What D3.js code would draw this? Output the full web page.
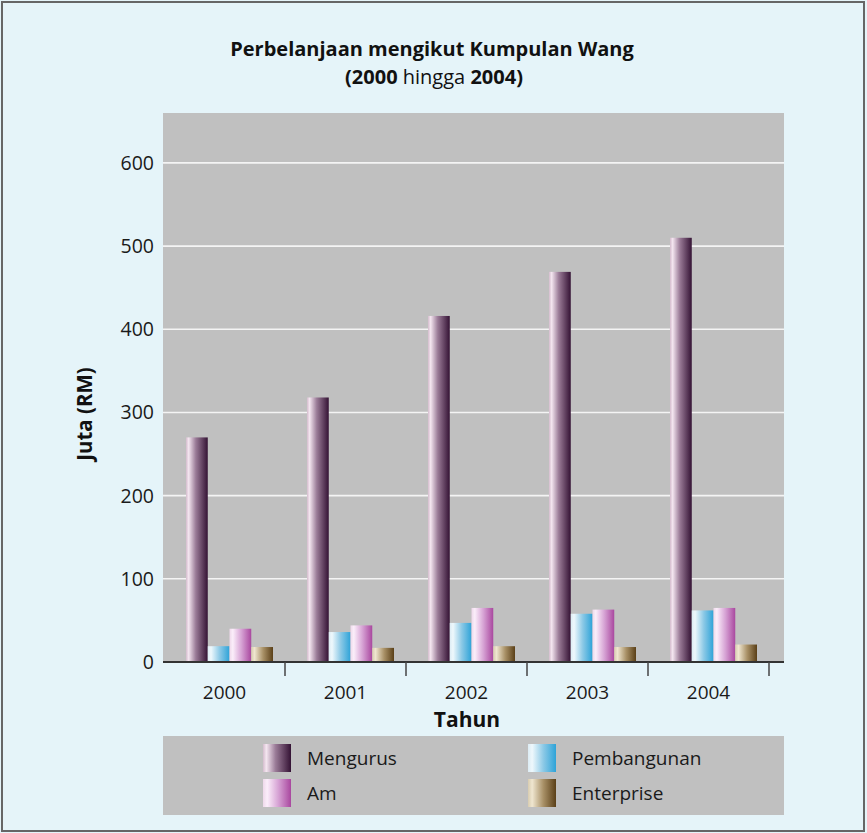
<!DOCTYPE html>
<html>
<head>
<meta charset="utf-8">
<script src="https://cdn.jsdelivr.net/npm/d3@7"></script>
<style>
html,body{margin:0;padding:0;background:#e5f4f9;}
svg{display:block;font-family:"Open Sans",sans-serif;}
</style>
</head>
<body>
<svg id="chart" width="867" height="833"></svg>
<script>
const years = ["2000","2001","2002","2003","2004"];
const seriesNames = ["Mengurus","Pembangunan","Am","Enterprise"];
const mengurus    = [270, 318, 416, 469, 510];
const pembangunan = [19, 36, 47, 58, 62];
const am          = [40, 44, 65, 63, 65];
const enterprise  = [18, 17, 19, 18, 21];
const yTicks = [0, 100, 200, 300, 400, 500, 600];
const legendOrder = ["Mengurus","Pembangunan","Am","Enterprise"];

const seriesValues = {Mengurus: mengurus, Pembangunan: pembangunan, Am: am, Enterprise: enterprise};
const gradStops = {
  Mengurus:    [["0%","#d4bccd"],["12%","#f4e6f0"],["45%","#9a7b97"],["100%","#341234"]],
  Pembangunan: [["0%","#dcecf4"],["15%","#eef8fc"],["55%","#8cc9e6"],["100%","#2ea3d8"]],
  Am:          [["0%","#eed8ea"],["15%","#fbeefa"],["55%","#d6a2d4"],["100%","#a9479f"]],
  Enterprise:  [["0%","#d8ccb0"],["15%","#efe6d0"],["55%","#a89066"],["100%","#5a3f17"]]
};

const svg = d3.select("#chart");
const W = 867, H = 833;

// background & border
svg.append("rect").attr("x",0).attr("y",0).attr("width",W).attr("height",H).attr("fill","#e5f4f9");
svg.append("rect").attr("x",2).attr("y",2).attr("width",862).attr("height",829)
  .attr("fill","none").attr("stroke","#666").attr("stroke-width",2);

const defs = svg.append("defs");
seriesNames.forEach(n => {
  const g = defs.append("linearGradient").attr("id","g-"+n).attr("x1","0").attr("x2","1").attr("y1","0").attr("y2","0");
  gradStops[n].forEach(s => g.append("stop").attr("offset",s[0]).attr("stop-color",s[1]));
});

const plotL = 163, plotR = 784, plotT = 113, plotB = 662;
const y = d3.scaleLinear().domain([0, 660]).range([plotB, plotT]);
const x0 = d3.scaleBand().domain(years).range([164, 769]).paddingInner(0).paddingOuter(0);
const x1 = d3.scaleBand().domain(seriesNames).range([22, 109]).padding(0);

// plot background
svg.append("rect").attr("x",plotL).attr("y",plotT).attr("width",plotR-plotL).attr("height",plotB-plotT).attr("fill","#c0c0c0");

// grid
svg.append("g").selectAll("line").data(yTicks.filter(d=>d>0)).join("line")
  .attr("x1",plotL).attr("x2",plotR).attr("y1",d=>y(d)).attr("y2",d=>y(d))
  .attr("stroke","#f4f4f4").attr("stroke-width",1.6);

// y tick labels
svg.append("g").selectAll("text").data(yTicks).join("text")
  .attr("x",154).attr("y",d=>y(d)).attr("dy","0.36em").attr("text-anchor","end")
  .attr("font-size",19.5).attr("fill","#1a1a1a").text(d=>d);

// bars
const groups = svg.append("g").selectAll("g").data(years).join("g")
  .attr("transform",d=>`translate(${x0(d)},0)`);
groups.selectAll("rect").data((yr,i)=>seriesNames.map(n=>({n, v: seriesValues[n][i]}))).join("rect")
  .attr("x",d=>x1(d.n)).attr("width",x1.bandwidth())
  .attr("y",d=>y(d.v)).attr("height",d=>plotB-y(d.v))
  .attr("fill",d=>`url(#g-${d.n})`);

// x axis
const xAxis = d3.axisBottom(x0).tickSize(0).tickFormat(d=>d);
const ax = svg.append("g").attr("transform",`translate(0,${plotB})`).call(xAxis);
ax.select(".domain").remove();
ax.selectAll("text").attr("font-size",19).attr("fill","#1a1a1a").attr("dy","1.8em").attr("font-family","Open Sans, sans-serif");
svg.append("line").attr("x1",plotL).attr("x2",plotR).attr("y1",plotB).attr("y2",plotB)
  .attr("stroke","#333").attr("stroke-width",2);
svg.append("g").selectAll("line").data(years).join("line")
  .attr("x1",d=>x0(d)+x0.bandwidth()).attr("x2",d=>x0(d)+x0.bandwidth())
  .attr("y1",plotB).attr("y2",plotB+14).attr("stroke","#444").attr("stroke-width",1.5);

// titles
svg.append("text").attr("x",432).attr("y",56).attr("text-anchor","middle")
  .attr("font-size",20).attr("font-weight","bold").attr("fill","#111")
  .text("Perbelanjaan mengikut Kumpulan Wang");
const t2 = svg.append("text").attr("x",434).attr("y",84).attr("text-anchor","middle")
  .attr("font-size",20).attr("fill","#111");
t2.append("tspan").attr("font-weight","bold").text("(2000");
t2.append("tspan").text(" hingga ");
t2.append("tspan").attr("font-weight","bold").text("2004)");

// axis titles
svg.append("text").attr("x",467).attr("y",727).attr("text-anchor","middle")
  .attr("font-size",21).attr("font-weight","bold").attr("fill","#111").text("Tahun");
svg.append("text").attr("transform","translate(92,414) rotate(-90)").attr("text-anchor","middle")
  .attr("font-size",20.5).attr("font-weight","bold").attr("fill","#111").text("Juta (RM)");

// legend
svg.append("rect").attr("x",163).attr("y",736).attr("width",621).attr("height",79).attr("fill","#c0c0c0");
const legPos = {
  Mengurus:    {sx:263, tx:307, y:744},
  Pembangunan: {sx:528, tx:572, y:744},
  Am:          {sx:263, tx:307, y:779},
  Enterprise:  {sx:528, tx:572, y:779}
};
const lg = svg.append("g").selectAll("g").data(legendOrder).join("g");
lg.append("rect").attr("x",d=>legPos[d].sx).attr("y",d=>legPos[d].y).attr("width",28).attr("height",28)
  .attr("fill",d=>`url(#g-${d})`);
lg.append("text").attr("x",d=>legPos[d].tx).attr("y",d=>legPos[d].y+14).attr("dy","0.36em")
  .attr("font-size",19).attr("fill","#1a1a1a").text(d=>d);
</script>
</body>
</html>
